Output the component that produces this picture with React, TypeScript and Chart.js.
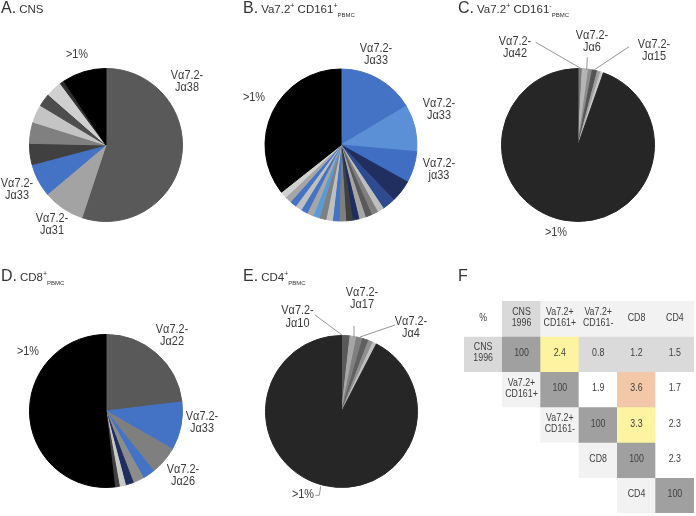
import React, { useEffect, useRef } from "react";
import { Chart, registerables } from "chart.js";
Chart.register(...registerables);

// ---------- Panel A: CNS ----------
const cnsClones = ["Vα7.2-Jα38", "Vα7.2-Jα31", "Vα7.2-Jα33", "clone 4", "clone 5", "clone 6", "clone 7", "clone 8", "clone 9", ">1%"];
const cnsShares = [55.2, 8.8, 7.0, 4.5, 4.5, 3.8, 2.8, 3.4, 0.9, 9.3];
const cnsColors = ["#595959", "#a3a3a3", "#4472c4", "#404040", "#808080", "#c4c4c4", "#4d4d4d", "#d0d0d0", "#2e2e2e", "#000000"];

// ---------- Panel B: Va7.2+ CD161+ PBMC ----------
const cd161posClones = ["Vα7.2-Jα33", "Vα7.2-Jα33", "Vα7.2-jα33", "c4", "c5", "c6", "c7", "c8", "c9", "c10", "c11", "c12", "c13", "c14", "c15", "c16", "c17", "c18", "c19", "c20", "c21", "c22", ">1%"];
const cd161posShares = [16.5, 10.0, 6.7, 4.8, 2.8, 1.4, 1.4, 1.4, 1.4, 1.4, 1.4, 1.4, 1.4, 1.4, 1.4, 1.4, 1.4, 1.4, 1.4, 1.4, 1.4, 1.4, 35.8];
const cd161posColors = ["#4472c4", "#5b8fd6", "#3f6ec2", "#202e60", "#2f4b8f", "#bfbfbf", "#7f7f7f", "#595959", "#a6a6a6", "#1f2d5e", "#404040", "#7f7f7f", "#4472c4", "#bfbfbf", "#7f7f7f", "#5b9bd5", "#a6a6a6", "#4472c4", "#bfbfbf", "#4472c4", "#a6a6a6", "#d0d0d0", "#000000"];

// ---------- Panel C: Va7.2+ CD161- PBMC ----------
const cd161negClones = ["Vα7.2-Jα42", "Vα7.2-Jα6", "Vα7.2-Jα15", "c4", "c5", "c6", ">1%"];
const cd161negShares = [0.9, 1.3, 0.8, 1.1, 0.7, 0.6, 94.6];
const cd161negColors = ["#7a7a7a", "#b5b5b5", "#8c8c8c", "#555555", "#a0a0a0", "#c8c8c8", "#262626"];

// ---------- Panel D: CD8+ PBMC ----------
const cd8Clones = ["Vα7.2-Jα22", "Vα7.2-Jα33", "c3", "c4", "Vα7.2-Jα26", "c6", "c7", "c8", ">1%"];
const cd8Shares = [23.1, 10.2, 6.0, 2.6, 2.3, 1.7, 1.3, 1.0, 51.8];
const cd8Colors = ["#595959", "#4472c4", "#7f7f7f", "#4472c4", "#8c8c8c", "#1f2d5e", "#c8c8c8", "#404040", "#000000"];

// ---------- Panel E: CD4+ PBMC ----------
const cd4Clones = ["Vα7.2-Jα10", "Vα7.2-Jα17", "Vα7.2-Jα4", "c4", "c5", "c6", ">1%"];
const cd4Shares = [1.8, 1.4, 1.3, 1.3, 1.0, 0.8, 92.4];
const cd4Colors = ["#595959", "#a6a6a6", "#7f7f7f", "#606060", "#909090", "#c0c0c0", "#262626"];

// ---------- Panel F: overlap table ----------
const tableHeaders = ["%", "CNS\n1996", "Va7.2+\nCD161+", "Va7.2+\nCD161-", "CD8", "CD4"];
const rowNames = ["CNS\n1996", "Va7.2+\nCD161+", "Va7.2+\nCD161-", "CD8", "CD4"];
const overlapCNS = [100, 2.4, 0.8, 1.2, 1.5];
const overlapCD161pos = [100, 1.9, 3.6, 1.7];
const overlapCD161neg = [100, 3.3, 2.3];
const overlapCD8 = [100, 2.3];
const overlapCD4 = [100];
const overlapRows = [overlapCNS, overlapCD161pos, overlapCD161neg, overlapCD8, overlapCD4];

const headerColors = ["#ffffff", "#d9d9d9", "#f2f2f2", "#f2f2f2", "#f2f2f2", "#f2f2f2"];
const rowNameColors = ["#d9d9d9", "#f2f2f2", "#f2f2f2", "#f2f2f2", "#f2f2f2"];
const cellColors = [
  ["#a0a0a0", "#fdf3a0", "#dadada", "#dadada", "#dadada"],
  ["#a0a0a0", "#ffffff", "#f2c8a8", "#ffffff"],
  ["#a0a0a0", "#fdf3a0", "#ffffff"],
  ["#a0a0a0", "#ffffff"],
  ["#a0a0a0"],
];

const FONT = '"Liberation Sans", Arial, Helvetica, sans-serif';

type Lbl = { lines: string[]; dx: number; dy: number };

function annotPlugin(labels: Lbl[], leaders: number[][]) {
  return {
    id: "pieAnnot",
    afterDatasetsDraw(chart: any) {
      const arc: any = chart.getDatasetMeta(0).data[0];
      if (!arc) return;
      const cx = arc.x;
      const cy = arc.y;
      const ctx = chart.ctx as CanvasRenderingContext2D;
      ctx.save();
      ctx.strokeStyle = "#8a8a8a";
      ctx.lineWidth = 0.9;
      for (const p of leaders) {
        ctx.beginPath();
        ctx.moveTo(cx + p[0], cy + p[1]);
        for (let i = 2; i < p.length; i += 2) ctx.lineTo(cx + p[i], cy + p[i + 1]);
        ctx.stroke();
      }
      ctx.fillStyle = "#3a3a3a";
      ctx.font = `13px ${FONT}`;
      ctx.textAlign = "center";
      ctx.textBaseline = "middle";
      for (const l of labels) {
        l.lines.forEach((t, i) => {
          ctx.save();
          ctx.translate(cx + l.dx, cy + l.dy + i * 12.5);
          ctx.scale(0.84, 1);
          ctx.fillText(t, 0, 0);
          ctx.restore();
        });
      }
      ctx.restore();
    },
  };
}

type PieCfg = {
  left: number;
  top: number;
  cx: number;
  cy: number;
  r: number;
  labels: string[];
  values: number[];
  colors: string[];
  annot: Lbl[];
  leaders: number[][];
};

const PW = 232;
const PH = 258;

const pies: PieCfg[] = [
  {
    left: 0, top: 0, cx: 106, cy: 145, r: 77,
    labels: cnsClones, values: cnsShares, colors: cnsColors,
    annot: [
      { lines: ["Vα7.2-", "Jα38"], dx: 81, dy: -70 },
      { lines: [">1%"], dx: -29, dy: -91 },
      { lines: ["Vα7.2-", "Jα33"], dx: -89, dy: 38 },
      { lines: ["Vα7.2-", "Jα31"], dx: -54, dy: 73 },
    ],
    leaders: [],
  },
  {
    left: 232, top: 0, cx: 109, cy: 145, r: 76.5,
    labels: cd161posClones, values: cd161posShares, colors: cd161posColors,
    annot: [
      { lines: ["Vα7.2-", "Jα33"], dx: 35, dy: -97 },
      { lines: ["Vα7.2-", "Jα33"], dx: 98, dy: -42 },
      { lines: ["Vα7.2-", "jα33"], dx: 98, dy: 18 },
      { lines: [">1%"], dx: -87, dy: -48 },
    ],
    leaders: [],
  },
  {
    left: 464, top: 0, cx: 114, cy: 145, r: 77,
    labels: cd161negClones, values: cd161negShares, colors: cd161negColors,
    annot: [
      { lines: ["Vα7.2-", "Jα42"], dx: -63, dy: -104 },
      { lines: ["Vα7.2-", "Jα6"], dx: 14, dy: -110 },
      { lines: ["Vα7.2-", "Jα15"], dx: 76, dy: -101 },
      { lines: [">1%"], dx: -22, dy: 87 },
    ],
    leaders: [
      [-42.3, -102.7, 2.7, -76.7],
      [9.3, -87.7, 8.7, -75],
      [51, -98.3, 16, -75],
    ],
  },
  {
    left: 0, top: 258, cx: 106, cy: 153, r: 77,
    labels: cd8Clones, values: cd8Shares, colors: cd8Colors,
    annot: [
      { lines: ["Vα7.2-", "Jα22"], dx: 66, dy: -82 },
      { lines: ["Vα7.2-", "Jα33"], dx: 96, dy: 5 },
      { lines: ["Vα7.2-", "Jα26"], dx: 77, dy: 58 },
      { lines: [">1%"], dx: -78, dy: -60 },
    ],
    leaders: [],
  },
  {
    left: 232, top: 258, cx: 109.5, cy: 153.5, r: 76.5,
    labels: cd4Clones, values: cd4Shares, colors: cd4Colors,
    annot: [
      { lines: ["Vα7.2-", "Jα10"], dx: -44, dy: -101 },
      { lines: ["Vα7.2-", "Jα17"], dx: 20.5, dy: -119.5 },
      { lines: ["Vα7.2-", "Jα4"], dx: 69.5, dy: -90.5 },
      { lines: [">1%"], dx: -38.5, dy: 82.5 },
    ],
    leaders: [
      [-26.5, -96.5, 0.5, -76.5],
      [12.5, -85.5, 12.5, -73.5],
      [53.5, -86.5, 18.5, -74.5],
      [-26.2, 83.8, -22.2, 83.8, -20.8, 74.8],
    ],
  },
];

function PieChart({ cfg }: { cfg: PieCfg }) {
  const ref = useRef<HTMLCanvasElement>(null);
  useEffect(() => {
    if (!ref.current) return;
    const { cx, cy, r } = cfg;
    const chart = new Chart(ref.current, {
      type: "pie",
      data: {
        labels: cfg.labels,
        datasets: [
          {
            data: cfg.values,
            backgroundColor: cfg.colors,
            borderColor: cfg.colors,
            borderWidth: 1,
          },
        ],
      },
      options: {
        animation: false,
        responsive: false,
        maintainAspectRatio: false,
        layout: {
          padding: { left: cx - r, top: cy - r, right: PW - (cx + r), bottom: PH - (cy + r) },
        },
        plugins: { legend: { display: false }, tooltip: { enabled: false } },
      },
      plugins: [annotPlugin(cfg.annot, cfg.leaders) as any],
    });
    return () => chart.destroy();
  }, [cfg]);
  return (
    <canvas
      ref={ref}
      width={PW}
      height={PH}
      style={{ position: "absolute", left: cfg.left, top: cfg.top, width: PW, height: PH }}
    />
  );
}

const colKeys = tableHeaders.map((h) => h.replace("\n", " "));
const fmt = (v: number) => (v === 100 ? "100" : v.toFixed(1));

function TableChart() {
  const ref = useRef<HTMLCanvasElement>(null);
  useEffect(() => {
    if (!ref.current) return;
    const datasets: any[] = [];
    datasets.push({
      data: colKeys.map((k) => ({ x: k, y: [0, 1] })),
      texts: tableHeaders,
      backgroundColor: headerColors,
    });
    overlapRows.forEach((vals, i) => {
      const r = i + 1;
      datasets.push({
        data: [
          { x: colKeys[i], y: [r, r + 1] },
          ...vals.map((v, j) => ({ x: colKeys[r + j], y: [r, r + 1] })),
        ],
        texts: [rowNames[i], ...vals.map(fmt)],
        backgroundColor: [rowNameColors[i], ...cellColors[i]],
      });
    });
    datasets.forEach((d) => {
      d.grouped = false;
      d.barPercentage = 1;
      d.categoryPercentage = 1;
      d.borderWidth = 0;
    });
    const textPlugin = {
      id: "cellText",
      afterDatasetsDraw(chart: any) {
        const ctx = chart.ctx as CanvasRenderingContext2D;
        ctx.save();
        ctx.fillStyle = "#404040";
        ctx.font = `10.5px ${FONT}`;
        ctx.textAlign = "center";
        ctx.textBaseline = "middle";
        chart.data.datasets.forEach((ds: any, di: number) => {
          const meta = chart.getDatasetMeta(di);
          meta.data.forEach((bar: any, j: number) => {
            const t: string = ds.texts[j];
            const lines = t.split("\n");
            const cy = (bar.y + bar.base) / 2;
            const lh = 11;
            lines.forEach((ln, k) => {
              ctx.save();
              ctx.translate(bar.x, cy - ((lines.length - 1) * lh) / 2 + k * lh - 1);
              ctx.scale(0.84, 1);
              ctx.fillText(ln, 0, 0);
              ctx.restore();
            });
          });
        });
        ctx.restore();
      },
    };
    const chart = new Chart(ref.current, {
      type: "bar",
      data: { labels: colKeys, datasets },
      options: {
        animation: false,
        responsive: false,
        maintainAspectRatio: false,
        layout: { padding: { left: 0, right: 2, top: 43, bottom: 3 } },
        scales: {
          x: { type: "category", display: false, offset: true },
          y: { type: "linear", min: 0, max: 6, reverse: true, display: false },
        },
        plugins: { legend: { display: false }, tooltip: { enabled: false } },
      },
      plugins: [textPlugin as any],
    });
    return () => chart.destroy();
  }, []);
  return (
    <canvas
      ref={ref}
      width={PW}
      height={PH}
      style={{ position: "absolute", left: 464, top: 258, width: PW, height: PH }}
    />
  );
}

const supS: React.CSSProperties = { fontSize: 7, position: "relative", top: -5 };
const subS: React.CSSProperties = { fontSize: 6, position: "relative", top: 4 };

function Title({ x, y, letter, children }: { x: number; y: number; letter: string; children?: React.ReactNode }) {
  return (
    <div
      style={{
        position: "absolute",
        left: x,
        top: y,
        whiteSpace: "nowrap",
        lineHeight: "15px",
        color: "#333",
        fontFamily: FONT,
      }}
    >
      <span style={{ fontSize: 16 }}>{letter}</span>
      {children ? <span style={{ fontSize: 11.5, marginLeft: 3 }}>{children}</span> : null}
    </div>
  );
}

export default function App() {
  return (
    <div
      style={{
        position: "absolute",
        left: 0,
        top: 0,
        width: 696,
        height: 516,
        background: "#ffffff",
        overflow: "hidden",
      }}
    >
      {pies.map((p, i) => (
        <PieChart key={i} cfg={p} />
      ))}
      <TableChart />
      <Title x={1} y={0} letter="A.">CNS</Title>
      <Title x={243} y={0} letter="B.">
        Va7.2<span style={supS}>+</span> CD161<span style={supS}>+</span>
        <span style={subS}>PBMC</span>
      </Title>
      <Title x={458} y={0} letter="C.">
        Va7.2<span style={supS}>+</span> CD161<span style={supS}>-</span>
        <span style={subS}>PBMC</span>
      </Title>
      <Title x={1} y={268} letter="D.">
        CD8<span style={supS}>+</span>
        <span style={subS}>PBMC</span>
      </Title>
      <Title x={243} y={268} letter="E.">
        CD4<span style={supS}>+</span>
        <span style={subS}>PBMC</span>
      </Title>
      <Title x={458} y={268} letter="F" />
    </div>
  );
}
